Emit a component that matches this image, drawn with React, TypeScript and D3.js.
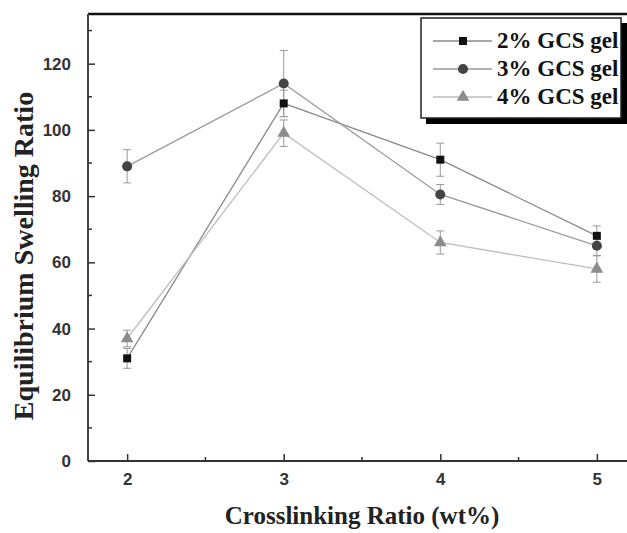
import React, { useEffect, useRef } from 'react';
import * as d3 from 'd3';

// crosslinking ratio (wt%)
const ratios = [2, 3, 4, 5];
const seriesNames = ['2% GCS gel', '3% GCS gel', '4% GCS gel'];
const gel2 = [31, 108, 91, 68];
const gel2Err = [3, 4, 5, 3];
const gel3 = [89, 114, 80.5, 65];
const gel3Err = [5, 10, 3, 3];
const gel4 = [37, 99, 66, 58];
const gel4Err = [2.5, 4, 3.5, 4];
const yTicks = [0, 20, 40, 60, 80, 100, 120];
const yMinor = [10, 30, 50, 70, 90, 110, 130];
const xMinor = [2.5, 3.5, 4.5];

function App() {
  const svgRef = useRef(null);

  useEffect(() => {
    document.body.style.margin = '0';
    const svg = d3.select(svgRef.current);
    svg.selectAll('*').remove();

    const left = 88, right = 636, top = 14, bottom = 461;
    const x = d3.scaleLinear().domain([1.75, 5.25]).range([left, right]);
    const y = d3.scaleLinear().domain([0, 135]).range([bottom, top]);

    const series = [
      { name: seriesNames[0], vals: gel2, err: gel2Err, line: '#8a8a8a', fill: '#111', shape: d3.symbolSquare, size: 64 },
      { name: seriesNames[1], vals: gel3, err: gel3Err, line: '#9a9a9a', fill: '#444', shape: d3.symbolCircle, size: 80 },
      { name: seriesNames[2], vals: gel4, err: gel4Err, line: '#bdbdbd', fill: '#8c8c8c', shape: d3.symbolTriangle, size: 70 },
    ];

    const lineGen = d3.line<number>()
      .x((d, i) => x(ratios[i]))
      .y(d => y(d));

    // lines
    series.forEach(s => {
      svg.append('path')
        .attr('d', lineGen(s.vals))
        .attr('fill', 'none')
        .attr('stroke', s.line)
        .attr('stroke-width', 1.3);
    });

    // error bars
    series.forEach(s => {
      const g = svg.append('g').attr('stroke', '#999').attr('stroke-width', 1);
      s.vals.forEach((v, i) => {
        const cx = x(ratios[i]);
        g.append('line').attr('x1', cx).attr('x2', cx).attr('y1', y(v - s.err[i])).attr('y2', y(v + s.err[i]));
        g.append('line').attr('x1', cx - 4).attr('x2', cx + 4).attr('y1', y(v + s.err[i])).attr('y2', y(v + s.err[i]));
        g.append('line').attr('x1', cx - 4).attr('x2', cx + 4).attr('y1', y(v - s.err[i])).attr('y2', y(v - s.err[i]));
      });
    });

    // markers
    series.forEach(s => {
      svg.append('g').selectAll('path')
        .data(s.vals)
        .join('path')
        .attr('d', d3.symbol().type(s.shape).size(s.size))
        .attr('transform', (d, i) => `translate(${x(ratios[i])},${y(d)})`)
        .attr('fill', s.fill);
    });

    // frame
    svg.append('line').attr('x1', left).attr('x2', right).attr('y1', top).attr('y2', top)
      .attr('stroke', '#111').attr('stroke-width', 2.5);
    svg.append('line').attr('x1', left).attr('x2', left).attr('y1', top).attr('y2', bottom)
      .attr('stroke', '#444').attr('stroke-width', 2);
    svg.append('line').attr('x1', left).attr('x2', right).attr('y1', bottom).attr('y2', bottom)
      .attr('stroke', '#333').attr('stroke-width', 2);

    // y axis
    const yAxis = d3.axisLeft(y).tickValues(yTicks).tickSize(-7).tickPadding(9);
    const yg = svg.append('g').attr('transform', `translate(${left},0)`).call(yAxis);
    yg.select('.domain').remove();
    yg.selectAll('line').attr('stroke', '#333').attr('stroke-width', 1.5);
    yg.selectAll('text').attr('font-family', 'Liberation Sans, Arial, sans-serif')
      .attr('font-weight', 'bold').attr('font-size', 17).attr('fill', '#333').attr('dx', -8);
    svg.append('g').selectAll('line').data(yMinor).join('line')
      .attr('x1', left).attr('x2', left + 4).attr('y1', d => y(d)).attr('y2', d => y(d))
      .attr('stroke', '#333').attr('stroke-width', 1.5);

    // x axis
    const xAxis = d3.axisBottom(x).tickValues(ratios).tickSize(-7).tickPadding(12).tickFormat(d3.format('d'));
    const xg = svg.append('g').attr('transform', `translate(0,${bottom})`).call(xAxis);
    xg.select('.domain').remove();
    xg.selectAll('line').attr('stroke', '#333').attr('stroke-width', 1.5);
    xg.selectAll('text').attr('font-family', 'Liberation Sans, Arial, sans-serif')
      .attr('font-weight', 'bold').attr('font-size', 17).attr('fill', '#333');
    svg.append('g').selectAll('line').data(xMinor).join('line')
      .attr('x1', d => x(d)).attr('x2', d => x(d)).attr('y1', bottom).attr('y2', bottom - 4)
      .attr('stroke', '#333').attr('stroke-width', 1.5);

    // axis titles
    svg.append('text')
      .attr('x', 362).attr('y', 524)
      .attr('text-anchor', 'middle')
      .attr('font-family', 'Liberation Serif, Times New Roman, serif')
      .attr('font-weight', 'bold').attr('font-size', 25).attr('fill', '#222')
      .text('Crosslinking Ratio (wt%)');
    svg.append('text')
      .attr('transform', 'translate(33,256) rotate(-90)')
      .attr('text-anchor', 'middle')
      .attr('font-family', 'Liberation Serif, Times New Roman, serif')
      .attr('font-weight', 'bold').attr('font-size', 28).attr('fill', '#222')
      .text('Equilibrium Swelling Ratio');

    // legend
    const lg = svg.append('g');
    lg.append('rect').attr('x', 426).attr('y', 23).attr('width', 201).attr('height', 101).attr('fill', '#000');
    lg.append('rect').attr('x', 421).attr('y', 18).attr('width', 200).attr('height', 100)
      .attr('fill', '#fff').attr('stroke', '#222').attr('stroke-width', 1.5);
    series.forEach((s, i) => {
      const ly = 41 + i * 28;
      lg.append('line').attr('x1', 433).attr('x2', 492).attr('y1', ly).attr('y2', ly)
        .attr('stroke', s.line).attr('stroke-width', 1.3);
      lg.append('path').attr('d', d3.symbol().type(s.shape).size(s.size))
        .attr('transform', `translate(463,${ly})`).attr('fill', s.fill);
      lg.append('text').attr('x', 497).attr('y', ly + 7)
        .attr('font-family', 'Liberation Serif, Times New Roman, serif')
        .attr('font-weight', 'bold').attr('font-size', 23).attr('fill', '#111')
        .text(s.name);
    });
  }, []);

  return (
    <svg ref={svgRef} width={627} height={533} style={{ display: 'block' }} />
  );
}

export default App;
